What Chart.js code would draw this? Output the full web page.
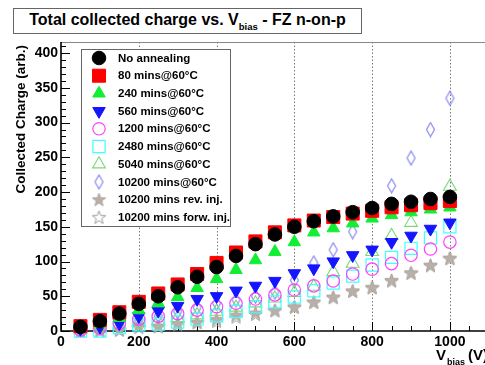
<!DOCTYPE html>
<html>
<head>
<meta charset="utf-8">
<script src="https://cdn.jsdelivr.net/npm/chart.js@4"></script>
<style>
  body { margin: 0; background: #fff; }
  #wrap { position: relative; width: 485px; height: 365px; }
  #title {
    position: absolute; left: 13px; top: 8px; width: 347px; height: 24px;
    border: 1px solid #666; background: #fff; box-sizing: content-box;
    font: bold 16px 'Liberation Sans', Arial, sans-serif; color: #000;
    text-align: center; line-height: 22px; white-space: nowrap;
  }
  #title sub { font-size: 9.5px; vertical-align: -5px; line-height: 0; }
</style>
</head>
<body>
<div id="wrap">
  <canvas id="myChart" width="485" height="365"></canvas>
  <div id="title">Total collected charge vs. V<sub>bias</sub> - FZ n-on-p</div>
</div>
<script>
/* data: collected charge (arb.) vs bias voltage (V) */
let voltages = [50, 100, 150, 200, 250, 300, 350, 400, 450, 500,
                550, 600, 650, 700, 750, 800, 850, 900, 950, 1000];

let noAnnealing = [6, 14, 25, 39, 50, 63, 78, 92, 108, 125, 139, 150, 158, 165, 171, 177, 183, 186, 190, 193];
let mins80      = [7, 16, 27, 42, 54, 67, 82, 98, 113, 129, 142, 152, 159, 164, 169, 173, 178, 181, 184, 187];
let mins240     = [3, 10, 19, 30, 40, 49, 62, 75, 88, 102, 114, 128, 142, 148, 155, 162, 167, 171, 175, 178];
let mins560     = [3, 6, 11, 21, 29, 36, 46, 50, 58, 65, 72, 83, 90, 100, 109, 117, 128, 137, 147, 156];
let mins1200    = [1, 4, 11, 17, 21, 25, 30, 35, 40, 46, 52, 59, 65, 72, 82, 89, 97, 109, 118, 128];
let mins2480    = [0, 0, 5, 9, 10, 13, 17, 22, 28, 35, 42, 49, 58, 69, 79, 95, 106, 119, 134, 150];
let mins5040    = [2, 4, 8, 12, 15, 19, 23, 28, 34, 40, 47, 55, 64, 85, 97, 114, 137, 156, 185, 208];
let mins10200   = [2, 5, 10, 16, 22, 28, 34, 40, 45, 50, 56, 73, 98, 117, 143, 175, 209, 249, 290, 335];
let revInj      = [0, 1, 1, 8, 7, 11, 13, 17, 23, 26, 30, 35, 42, 49, 58, 63, 73, 84, 95, 105];
let forwInj     = [0, 0, 2, 5, 6, 9, 12, 14, 20, 24, 29, 34, 41, 48, 57, 62, 72, 83, 94, 104];

let seriesLabels = [
    'No annealing',
    '80 mins@60°C',
    '240 mins@60°C',
    '560 mins@60°C',
    '1200 mins@60°C',
    '2480 mins@60°C',
    '5040 mins@60°C',
    '10200 mins@60°C',
    '10200 mins rev. inj.',
    '10200 mins forw. inj.'
];

let xTicks = [0, 200, 400, 600, 800, 1000];
let yTicks = [0, 50, 100, 150, 200, 250, 300, 350, 400];

const FONT = "'Liberation Sans', Arial, sans-serif";

/* little canvases for the marker shapes chart.js doesn't have */
function makeStar(fill, stroke){
    let c = document.createElement('canvas');
    c.width = 15; c.height = 15;
    let g = c.getContext('2d');
    g.beginPath();
    for(let i = 0; i < 10; i++){
        let r = i % 2 === 0 ? 7 : 2.9;
        let a = -Math.PI / 2 + i * Math.PI / 5;
        let px = 7.5 + r * Math.cos(a), py = 8 + r * Math.sin(a);
        if(i === 0){ g.moveTo(px, py); } else { g.lineTo(px, py); }
    }
    g.closePath();
    if(fill){ g.fillStyle = fill; g.fill(); }
    g.strokeStyle = stroke; g.lineWidth = 1; g.stroke();
    return c;
}
function makeDiamond(stroke){
    let c = document.createElement('canvas');
    c.width = 11; c.height = 16;
    let g = c.getContext('2d');
    g.beginPath();
    g.moveTo(5.5, 1); g.lineTo(9.5, 8); g.lineTo(5.5, 15); g.lineTo(1.5, 8);
    g.closePath();
    g.strokeStyle = stroke; g.lineWidth = 1.2; g.stroke();
    return c;
}

let seriesValues = [noAnnealing, mins80, mins240, mins560, mins1200, mins2480, mins5040, mins10200, revInj, forwInj];
let seriesStyle = [
    { pointStyle: 'circle',   radius: 6.8, rotation: 0,   fill: '#000000', line: '#000000', width: 1 },
    { pointStyle: 'rect',     radius: 9.2, rotation: 0,   fill: '#ff0000', line: '#ff0000', width: 1 },
    { pointStyle: 'triangle', radius: 7.2, rotation: 0,   fill: '#11ee33', line: '#11ee33', width: 1 },
    { pointStyle: 'triangle', radius: 7.2, rotation: 180, fill: '#1414ff', line: '#1414ff', width: 1 },
    { pointStyle: 'circle',   radius: 6.2, rotation: 0,   fill: 'rgba(0,0,0,0)', line: '#ff40ff', width: 1.2 },
    { pointStyle: 'rect',     radius: 8.6, rotation: 0,   fill: 'rgba(0,0,0,0)', line: '#40ffff', width: 1.2 },
    { pointStyle: 'triangle', radius: 7.4, rotation: 0,   fill: 'rgba(0,0,0,0)', line: '#7bd87b', width: 1.1 },
    { pointStyle: makeDiamond('#8a8af0'), radius: 7, rotation: 0, fill: 'rgba(0,0,0,0)', line: '#8a8af0', width: 1 },
    { pointStyle: makeStar('#b9b1a9', '#b0a8a0'), radius: 7, rotation: 0, fill: '#b9b1a9', line: '#b0a8a0', width: 1 },
    { pointStyle: makeStar(null, '#9a9a9a'), radius: 7, rotation: 0, fill: 'rgba(0,0,0,0)', line: '#9a9a9a', width: 1 }
];

let datasets = [];
for(let i = 0; i < seriesValues.length; i++){
    let s = seriesStyle[i];
    datasets.push({
        label: seriesLabels[i],
        data: voltages.map((v, j) => ({ x: v, y: seriesValues[i][j] })),
        pointStyle: s.pointStyle,
        pointRadius: s.radius,
        pointRotation: s.rotation,
        backgroundColor: s.fill,
        borderColor: s.line,
        borderWidth: s.width,
        showLine: false,
        clip: 12
    });
}

/* ROOT-like frame: inward ticks, dotted grid on the major x ticks */
let frameAxes = {
    id: 'frameAxes',
    beforeDatasetsDraw(chart){
        let ctx = chart.ctx;
        let xs = chart.scales.x, ys = chart.scales.y;
        let a = chart.chartArea;
        let edge = chart.width;   // frame runs off the right side of the picture
        ctx.save();
        ctx.strokeStyle = '#777';
        ctx.lineWidth = 1;
        ctx.setLineDash([1.5, 2]);
        xTicks.forEach(v => {
            if(v === 0) return;
            let px = Math.round(xs.getPixelForValue(v)) + 0.5;
            ctx.beginPath(); ctx.moveTo(px, a.top); ctx.lineTo(px, a.bottom); ctx.stroke();
        });
        ctx.setLineDash([]);
        // top frame line
        ctx.strokeStyle = '#888';
        ctx.beginPath(); ctx.moveTo(a.left, a.top + 0.5); ctx.lineTo(edge, a.top + 0.5); ctx.stroke();
        ctx.strokeStyle = '#000';
        ctx.lineWidth = 1;
        for(let v = 0; v <= 410; v += 10){
            let py = Math.round(ys.getPixelForValue(v)) + 0.5;
            let len = v % 50 === 0 ? 9 : 5;
            ctx.beginPath(); ctx.moveTo(a.left, py); ctx.lineTo(a.left + len, py); ctx.stroke();
        }
        for(let v = 0; v <= 1100; v += 50){
            let px = Math.round(xs.getPixelForValue(v)) + 0.5;
            if(px > edge) continue;
            let len = v % 200 === 0 ? 9 : 5;
            ctx.beginPath(); ctx.moveTo(px, a.bottom); ctx.lineTo(px, a.bottom - len); ctx.stroke();
        }
        ctx.lineWidth = 1.6;
        ctx.beginPath();
        ctx.moveTo(a.left, a.top); ctx.lineTo(a.left, a.bottom); ctx.lineTo(edge, a.bottom);
        ctx.stroke();
        ctx.restore();
    },
    afterDraw(chart){
        let ctx = chart.ctx;
        ctx.save();
        // legend box inside the frame
        let bx = 81.5, by = 49.5, bw = 149, bh = 177;
        ctx.fillStyle = '#fff';
        ctx.fillRect(bx, by, bw, bh);
        ctx.strokeStyle = '#666';
        ctx.lineWidth = 1;
        ctx.strokeRect(bx, by, bw, bh);
        ctx.font = 'bold 11.5px ' + FONT;
        ctx.textBaseline = 'middle';
        ctx.textAlign = 'left';
        for(let i = 0; i < seriesLabels.length; i++){
            let s = seriesStyle[i];
            let y = 58 + i * 17.7;
            ctx.save();
            ctx.fillStyle = s.fill;
            ctx.strokeStyle = s.line;
            ctx.lineWidth = s.width;
            Chart.helpers.drawPoint(ctx, {
                pointStyle: s.pointStyle, rotation: s.rotation,
                radius: s.radius, borderWidth: s.width
            }, 99, y);
            ctx.restore();
            ctx.fillStyle = '#000';
            ctx.fillText(seriesLabels[i], 118, y + 0.5);
        }
        // y axis title
        ctx.save();
        ctx.translate(25, 45);
        ctx.rotate(-Math.PI / 2);
        ctx.textAlign = 'right';
        ctx.textBaseline = 'alphabetic';
        ctx.font = 'bold 13.5px ' + FONT;
        ctx.fillStyle = '#000';
        ctx.fillText('Collected Charge (arb.)', 0, 0);
        ctx.restore();
        // x axis title with subscript
        ctx.fillStyle = '#000';
        ctx.textBaseline = 'alphabetic';
        ctx.font = 'bold 15px ' + FONT;
        ctx.fillText('V', 436, 360);
        ctx.font = 'bold 9px ' + FONT;
        ctx.fillText('bias', 447, 365);
        ctx.font = 'bold 15px ' + FONT;
        ctx.fillText('(V)', 468, 360);
        ctx.restore();
    }
};

let config = {
    type: 'scatter',
    data: { datasets: datasets },
    options: {
        responsive: false,
        animation: false,
        layout: { padding: { top: 42, right: 0, left: 0, bottom: 0 } },
        plugins: { legend: { display: false }, tooltip: { enabled: false } },
        scales: {
            x: {
                type: 'linear', min: 0, max: 1064,
                afterFit(scale){
                    scale.height = 34;
                    scale.paddingLeft = 0; scale.paddingRight = 0;
                },
                grid: { display: false, drawTicks: false },
                border: { display: false },
                ticks: {
                    stepSize: 200, includeBounds: false, autoSkip: false, maxRotation: 0,
                    padding: 3, color: '#000',
                    callback: v => String(v),
                    font: { family: FONT, size: 14, weight: 'bold' }
                }
            },
            y: {
                type: 'linear', min: 0, max: 416,
                afterFit(scale){
                    scale.width = 61;
                    scale.paddingTop = 0; scale.paddingBottom = 0;
                },
                grid: { display: false, drawTicks: false },
                border: { display: false },
                ticks: {
                    stepSize: 50, includeBounds: false, autoSkip: false,
                    padding: 3, color: '#000',
                    callback: v => String(v),
                    font: { family: FONT, size: 14, weight: 'bold' }
                }
            }
        }
    },
    plugins: [frameAxes]
};

let myChart = new Chart(document.getElementById('myChart').getContext('2d'), config);
</script>
</body>
</html>
